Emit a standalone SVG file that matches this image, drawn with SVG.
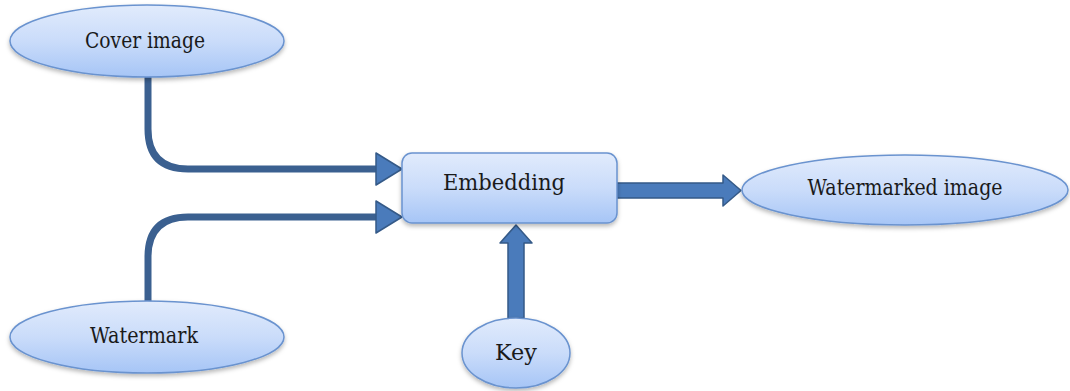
<svg xmlns="http://www.w3.org/2000/svg" width="1070" height="391" viewBox="0 0 1070 391">
  <defs>
    <linearGradient id="fillBlue" x1="0" y1="0" x2="0" y2="1">
      <stop offset="0" stop-color="#e1ebfc"/>
      <stop offset="0.5" stop-color="#cadcfa"/>
      <stop offset="1" stop-color="#a6c5f6"/>
    </linearGradient>
    <filter id="shadow" x="-10%" y="-20%" width="120%" height="150%">
      <feDropShadow dx="0" dy="2.5" stdDeviation="2" flood-color="#000" flood-opacity="0.28"/>
    </filter>
    <!-- triangular head; tip sits 22px beyond the end of the line -->
    <marker id="tri" viewBox="0 0 28 34" refX="5" refY="17" markerWidth="28" markerHeight="34" markerUnits="userSpaceOnUse" orient="auto">
      <path d="M1,1 L27,17 L1,33 Z" fill="#4a7bbb" stroke="#355a88" stroke-width="1.5" stroke-linejoin="round"/>
    </marker>
  </defs>
  <style>
    .shape { fill: url(#fillBlue); stroke: #6a93cf; stroke-width: 1.5; filter: url(#shadow); }
    .label { font-family: "DejaVu Serif", "Liberation Serif", serif; font-size: 22px; fill: #1a1a1a; text-anchor: middle; }
    .line { fill: none; stroke: #3b6090; stroke-width: 7; }
    .block { fill: #4a7bbb; stroke: #355a88; stroke-width: 1.5; stroke-linejoin: round; }
  </style>

  <g id="connectors">
    <!-- cover image to embedding -->
    <path class="line" d="M148,76 L148,129 Q148,169 188,169 L380,169" marker-end="url(#tri)"/>
    <!-- watermark to embedding -->
    <path class="line" d="M148,302 L148,257 Q148,217 188,217 L380,217" marker-end="url(#tri)"/>
    <!-- embedding to watermarked image -->
    <path class="block" d="M617,183 L723,183 L723,175 L741,190.5 L723,206 L723,198 L617,198 Z"/>
    <!-- key to embedding -->
    <path class="block" d="M508,318 L508,243 L500,243 L516,225 L532,243 L524,243 L524,318 Z"/>
  </g>

  <g id="cover-image">
    <ellipse class="shape" cx="147" cy="41" rx="137" ry="36"/>
    <text class="label" x="145" y="48" textLength="120" lengthAdjust="spacingAndGlyphs">Cover image</text>
  </g>

  <g id="watermark">
    <ellipse class="shape" cx="147" cy="337" rx="137" ry="36"/>
    <text class="label" x="144" y="343" textLength="108" lengthAdjust="spacingAndGlyphs">Watermark</text>
  </g>

  <g id="embedding">
    <rect class="shape" x="402" y="153" width="215" height="70" rx="10" ry="10"/>
    <text class="label" x="504" y="190" textLength="122" lengthAdjust="spacingAndGlyphs">Embedding</text>
  </g>

  <g id="watermarked-image">
    <ellipse class="shape" cx="905" cy="190" rx="163" ry="35"/>
    <text class="label" x="905" y="195" textLength="195" lengthAdjust="spacingAndGlyphs">Watermarked image</text>
  </g>

  <g id="key">
    <ellipse class="shape" cx="516" cy="353" rx="54" ry="35"/>
    <text class="label" x="516" y="360" textLength="42" lengthAdjust="spacingAndGlyphs">Key</text>
  </g>
</svg>
